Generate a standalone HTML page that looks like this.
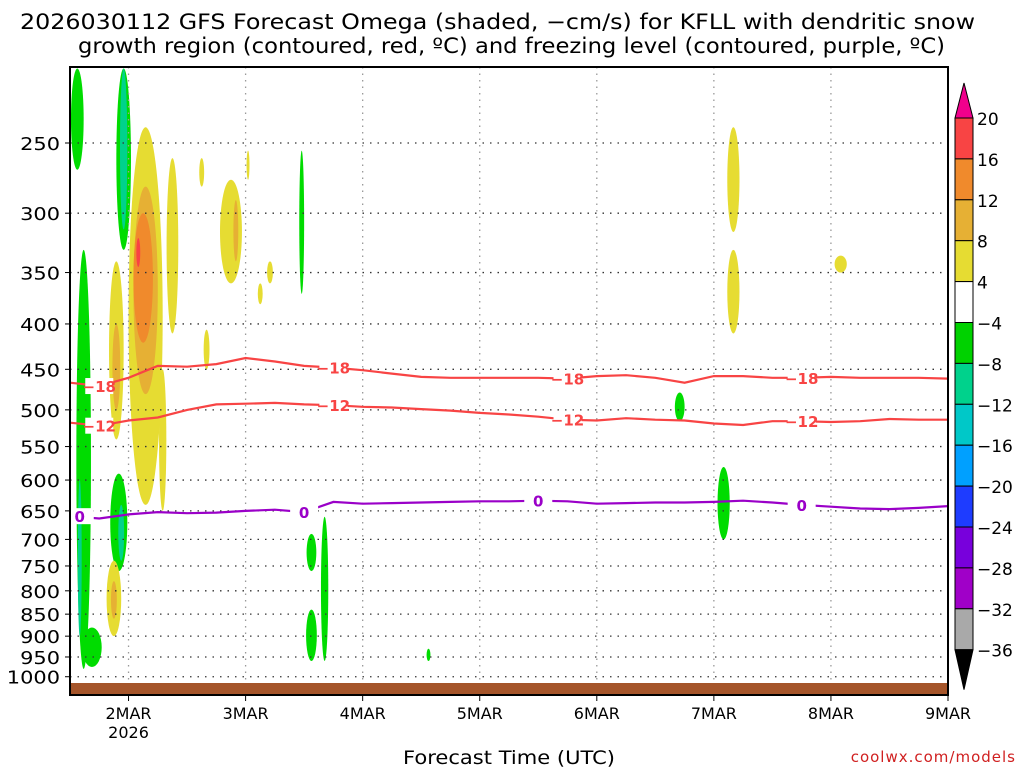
<!DOCTYPE html>
<html><head><meta charset="utf-8"><style>
html,body{margin:0;padding:0;background:#fff;width:1024px;height:768px;overflow:hidden}
svg{display:block;font-family:"DejaVu Sans","Liberation Sans",sans-serif}
</style></head><body>
<svg id="chart" width="1024" height="768" viewBox="0 0 1024 768" xmlns="http://www.w3.org/2000/svg">
<text x="20" y="29" font-size="21" textLength="955" lengthAdjust="spacingAndGlyphs">2026030112 GFS Forecast Omega (shaded, −cm/s) for KFLL with dendritic snow</text>
<text x="78" y="53" font-size="21" textLength="867" lengthAdjust="spacingAndGlyphs">growth region (contoured, red, ºC) and freezing level (contoured, purple, ºC)</text>
<g id="shade"></g>
<g id="grid"></g>
<rect x="70" y="683" width="878" height="12" fill="#a5552a"/>
<g id="contours"></g>
<rect x="70" y="67" width="878" height="628" fill="none" stroke="#000" stroke-width="2"/>
<g id="axes"></g>
<g id="cbar"></g>
<text x="403" y="764" font-size="19" textLength="212" lengthAdjust="spacingAndGlyphs">Forecast Time (UTC)</text>
<text x="1016" y="762" font-size="15" text-anchor="end" fill="#d02020" letter-spacing="1">coolwx.com/models</text>
</svg>
<script>
// ---- data ----
const hours=[0,6,12,18,24,30,36,42,48,54,60,66,72,78,84,90,96,102,108,114,120,126,132,138,144,150,156,162,168,174,180];
const minus18=[466,470,460,446,447,444,437,441,446,448,451,455,459,460,460,460,460,461,458,457,460,466,458,458,460,460,459,460,460,460,461];
const minus12=[517,521,514,510,500,493,492,491,493,494,496,497,499,501,504,506,509,513,514,511,513,514,518,520,515,515,516,515,512,513,513];
const freezing=[659,663,656,652,654,653,650,648,652,635,638,637,636,635,634,634,633,634,638,637,636,636,635,633,636,640,643,646,647,645,642];
const pressureTicks=[250,300,350,400,450,500,550,600,650,700,750,800,850,900,950,1000];
const dayLabels=["2MAR","3MAR","4MAR","5MAR","6MAR","7MAR","8MAR","9MAR"];
const dayHours=[12,36,60,84,108,132,156,180];
const cbarLevels=["20","16","12","8","4","−4","−8","−12","−16","−20","−24","−28","−32","−36"];
const cbarColors=["#f84444","#f08a2c","#e6b034","#e6dc32","#ffffff","#00d200","#00d28c","#00c8c8","#00a0ff","#1e3cff","#7800dc","#a000c8","#a9a9a9"];
// omega blobs: hour, pTop, pBottom, widthHours, level-colour
const blobH=[1.5,2.8,2,11,11,15.5,15.5,15,14,21,9.5,9.5,33,34,47.5,136,136,158,125,134,10,10.5,52.2,49.5,49.5,9,9,4.5,73.5,19,39,28,41,27,36.5];
const blobTop=[206,330,600,206,206,240,280,300,320,260,340,400,275,290,255,240,330,335,478,580,590,640,660,690,840,740,780,880,930,450,360,406,340,260,255];
const blobBot=[268,980,900,330,313,640,480,420,345,410,540,500,360,340,370,315,410,350,515,700,760,740,960,760,960,900,860,975,960,650,380,450,360,280,275];
const blobW=[2.6,3,0.8,3,1.5,7,5,4,0.8,2.4,3,1.6,4.5,1,1,2.5,2.5,2.5,2,2.5,3.5,1.2,1.5,2,2.2,3,1.2,4,0.8,1.5,1,1.2,1.2,1,0.6];
const blobC=["#00dc00","#00dc00","#00d28c","#00dc00","#00d28c","#e6dc32","#e6b034","#f08a2c","#f84444","#e6dc32","#e6dc32","#e6b034","#e6dc32","#e6b034","#00dc00","#e6dc32","#e6dc32","#e6dc32","#00dc00","#00dc00","#00dc00","#00d28c","#00dc00","#00dc00","#00dc00","#e6dc32","#e6b034","#00dc00","#00dc00","#e6dc32","#e6dc32","#e6dc32","#e6dc32","#e6dc32","#e6dc32"];

// ---- scales ----
const X0=70,X1=948,Y250=143,K=385;
const x=h=>X0+h/180*(X1-X0);
const y=p=>Y250+Math.log(p/250)*K;
const NS="http://www.w3.org/2000/svg";
function mk(tag,attrs,parent,txt){const e=document.createElementNS(NS,tag);for(const k in attrs)e.setAttribute(k,attrs[k]);if(txt!==undefined)e.textContent=txt;parent.appendChild(e);return e;}

const shade=document.getElementById('shade');
for(let i=0;i<blobH.length;i++){
  const yt=Math.max(y(blobTop[i]),67),yb=Math.min(y(blobBot[i]),683);
  const e=mk('ellipse',{cx:x(blobH[i]),cy:(yt+yb)/2,rx:(x(blobW[i])-X0)/2,ry:(yb-yt)/2,fill:blobC[i]},shade);
  
  
}

const grid=document.getElementById('grid'),axes=document.getElementById('axes');
pressureTicks.forEach(p=>{
  const l=mk('line',{x1:X0,x2:X1,y1:y(p),y2:y(p),stroke:'#333','stroke-width':1.3,'stroke-dasharray':'1.5 6'},grid);
  
  
  const s=String(p);
  const t=mk('text',{x:60,y:y(p)+7,'font-size':18,'text-anchor':'end',textLength:s.length*13.3,lengthAdjust:'spacingAndGlyphs'},axes,s);
  
  
  mk('line',{x1:X0-5,x2:X0,y1:y(p),y2:y(p),stroke:'#000'},axes);
});
dayHours.forEach((h,i)=>{
  if(h<180){const l=mk('line',{x1:x(h),x2:x(h),y1:67,y2:683,stroke:'#999','stroke-width':1.3,'stroke-dasharray':'1.5 5'},grid);
  
  }
  mk('line',{x1:x(h),x2:x(h),y1:695,y2:701,stroke:'#000'},axes);
  const t=mk('text',{x:x(h),y:719,'font-size':16,'text-anchor':'middle'},axes,dayLabels[i]);
  
  
});
const yr=mk('text',{x:x(12),y:738,'font-size':16,'text-anchor':'middle'},axes,'2026');



const cont=document.getElementById('contours');
function drawLine(vals,color,name,labelText,labelHours){
  const pts=hours.map((h,i)=>x(h).toFixed(1)+','+y(vals[i]).toFixed(1)).join(' ');
  const pl=mk('polyline',{points:pts,fill:'none',stroke:color,'stroke-width':2.2},cont);
  
  
  labelHours.forEach(h=>{
    const i=Math.round(h/6);const px=x(h),py=y(vals[i]);
    mk('rect',{x:px-14,y:py-8,width:28,height:16,fill:'#fff'},cont);
    const t=mk('text',{x:px,y:py+6,'font-size':15,'font-weight':'bold','text-anchor':'middle',fill:color},cont,labelText);
    
    
  });
}
drawLine(minus18,'#f84444','contour-minus18','−18',[6,54,102,150]);
drawLine(minus12,'#f84444','contour-minus12','−12',[6,54,102,150]);
drawLine(freezing,'#9a00c8','freezing-level','0',[2,48,96,150]);

const cb=document.getElementById('cbar');
const CX=955,CW=18,CT=118,CH=40.9;
mk('polygon',{points:`${CX},${CT} ${CX+CW},${CT} ${CX+CW/2},${CT-35}`,fill:'#f0008c',stroke:'#000'},cb);
cbarColors.forEach((c,i)=>{
  const r=mk('rect',{x:CX,y:CT+i*CH,width:CW,height:CH,fill:c,stroke:'#000'},cb);
  
  
});
const CB=CT+cbarColors.length*CH;
mk('polygon',{points:`${CX},${CB} ${CX+CW},${CB} ${CX+CW/2},${CB+40}`,fill:'#000',stroke:'#000'},cb);
cbarLevels.forEach((s,i)=>{
  const t=mk('text',{x:977,y:CT+i*CH+7,'font-size':17},cb,s);
  
  
});
</script>
</body></html>
